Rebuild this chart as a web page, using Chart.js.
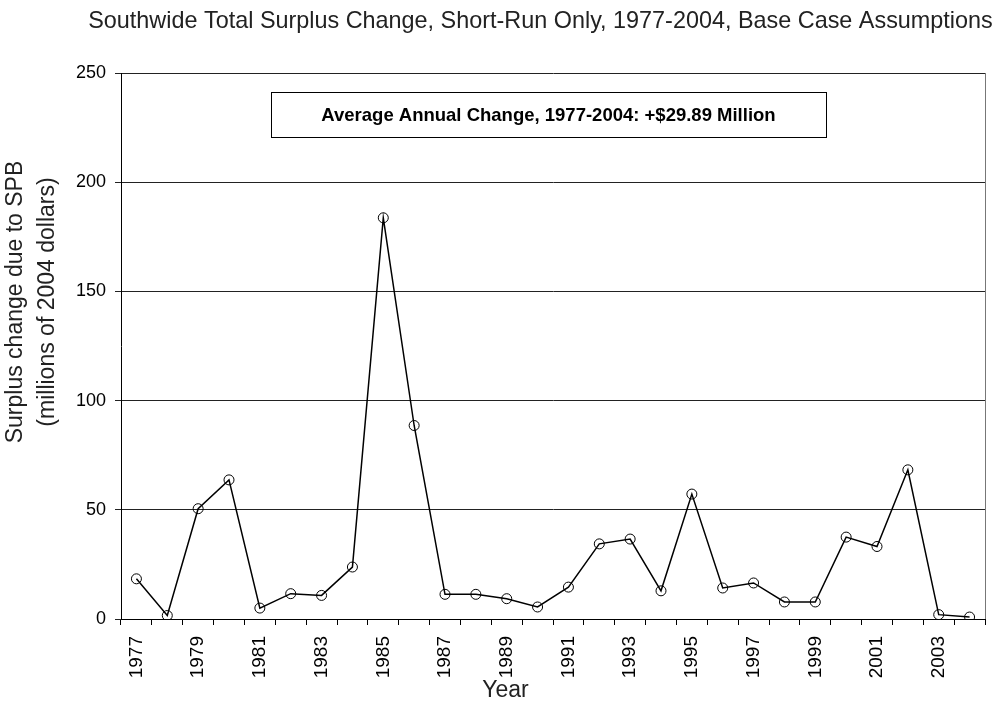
<!DOCTYPE html>
<html>
<head>
<meta charset="utf-8">
<script src="https://cdn.jsdelivr.net/npm/chart.js"></script>
<style>
  html, body { margin: 0; padding: 0; background: #fff; }
  #wrap { width: 994px; height: 703px; }
</style>
</head>
<body>
<div id="wrap"><canvas id="chart" width="994" height="703"></canvas></div>
<script>
const years = ['1977','1978','1979','1980','1981','1982','1983','1984','1985','1986',
  '1987','1988','1989','1990','1991','1992','1993','1994','1995','1996',
  '1997','1998','1999','2000','2001','2002','2003','2004'];
// surplus change, millions of 2004 dollars
const surplus = [18.4, 1.6, 50.5, 63.7, 5.0, 11.6, 10.8, 23.8, 183.7, 88.6,
  11.3, 11.3, 9.3, 5.5, 14.6, 34.4, 36.6, 12.9, 57.2, 14.2,
  16.5, 7.8, 7.8, 37.5, 33.2, 68.3, 2.0, 0.9];
const yTicks = [0, 50, 100, 150, 200, 250];
const chartTitle = 'Southwide Total Surplus Change, Short-Run Only, 1977-2004, Base Case Assumptions';
const yTitle = ['Surplus change due to SPB', '(millions of 2004 dollars)'];
const xTitle = 'Year';
const avgNote = 'Average Annual Change, 1977-2004: +$29.89 Million';

const FONT = '"Liberation Sans", Arial, Helvetica, sans-serif';

// titles, right frame line and the average note box
const extras = {
  id: 'extras',
  afterDraw(chart) {
    const { ctx, chartArea: a } = chart;
    ctx.save();
    ctx.strokeStyle = '#777';
    ctx.lineWidth = 1;
    ctx.beginPath();
    ctx.moveTo(a.right + 0.5, a.top);
    ctx.lineTo(a.right + 0.5, a.bottom);
    ctx.stroke();

    ctx.fillStyle = '#222';
    ctx.textAlign = 'center';
    ctx.textBaseline = 'alphabetic';
    ctx.font = '23.4px ' + FONT;
    ctx.fillText(chartTitle, 540.5, 28);

    ctx.font = '23px ' + FONT;
    ctx.fillText(xTitle, 505.5, 697);

    ctx.save();
    ctx.translate(0, 302);
    ctx.rotate(-Math.PI / 2);
    ctx.textBaseline = 'middle';
    ctx.fillText(yTitle[0], 0, 16);
    ctx.fillText(yTitle[1], 0, 48);
    ctx.restore();

    const bx = 271, by = 92, bw = 555, bh = 45;
    ctx.fillStyle = '#fff';
    ctx.fillRect(bx, by, bw, bh);
    ctx.strokeStyle = '#000';
    ctx.strokeRect(bx + 0.5, by + 0.5, bw, bh);
    ctx.fillStyle = '#000';
    ctx.font = 'bold 18.5px ' + FONT;
    ctx.textBaseline = 'middle';
    ctx.fillText(avgNote, bx + bw / 2, by + bh / 2 + 1);
    ctx.restore();
  }
};

new Chart(document.getElementById('chart'), {
  type: 'line',
  data: {
    labels: years,
    datasets: [{
      data: surplus,
      borderColor: '#000',
      borderWidth: 1.5,
      tension: 0,
      pointStyle: 'circle',
      pointRadius: 5,
      pointBackgroundColor: 'rgba(0,0,0,0)',
      pointBorderColor: '#000',
      pointBorderWidth: 1
    }]
  },
  options: {
    responsive: false,
    animation: false,
    layout: { padding: { left: 0, right: 9, top: 73, bottom: 0 } },
    plugins: {
      legend: { display: false },
      tooltip: { enabled: false },
      title: { display: false }
    },
    scales: {
      x: {
        type: 'category',
        offset: true,
        grid: {
          offset: true,
          drawOnChartArea: false,
          drawTicks: true,
          tickLength: 6,
          color: '#000'
        },
        border: { color: '#000', width: 1 },
        ticks: {
          autoSkip: false,
          minRotation: 90,
          maxRotation: 90,
          padding: 11,
          color: '#000',
          font: { family: FONT, size: 19 },
          callback: (v, i) => (i % 2 === 0 ? years[i] : '')
        },
        afterFit: (s) => {
          s.height = 84;
          s.paddingLeft = 0;
          s.paddingRight = 0;
        }
      },
      y: {
        min: 0,
        max: 250,
        afterBuildTicks: (s) => { s.ticks = yTicks.map(v => ({ value: v })); },
        grid: {
          color: '#222',
          lineWidth: 1,
          drawTicks: true,
          tickLength: 6
        },
        border: { color: '#000', width: 1 },
        ticks: {
          padding: 9,
          color: '#000',
          font: { family: FONT, size: 18 }
        },
        afterFit: (s) => {
          s.width = 121;
          s.paddingTop = 0;
          s.paddingBottom = 0;
        }
      }
    }
  },
  plugins: [extras]
});
</script>
</body>
</html>
